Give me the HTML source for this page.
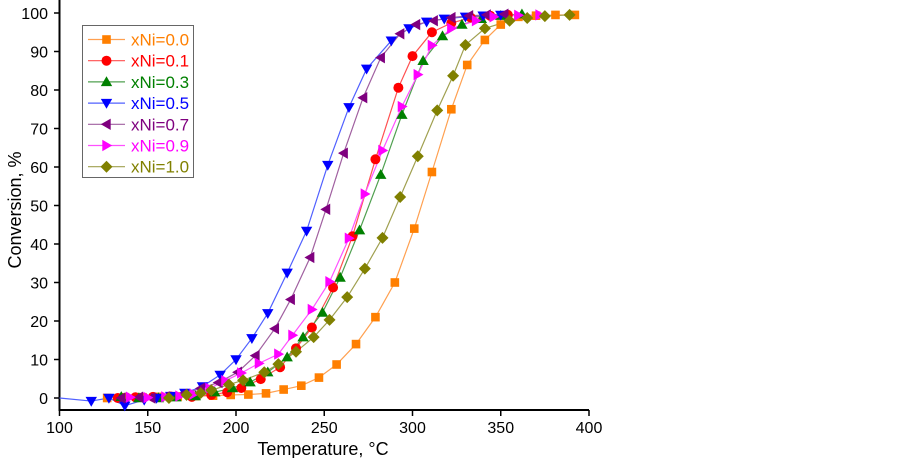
<!DOCTYPE html>
<html><head><meta charset="utf-8"><style>
html,body{margin:0;padding:0;background:#fff;}
svg{display:block;font-family:"Liberation Sans",Arial,sans-serif;}
</style></head><body>
<svg id="s" width="902" height="458" viewBox="0 0 902 458" xmlns="http://www.w3.org/2000/svg">
<g id="axes" stroke="#000" stroke-width="2" fill="none">
<line x1="59.5" y1="0" x2="59.5" y2="411"/>
<line x1="58.5" y1="410" x2="589" y2="410"/>
</g>
<g id="ticks" stroke="#000" stroke-width="1.5"></g>
<g id="labels" font-size="16" fill="#000"></g>
<g id="series"></g>
<text x="323" y="455" font-size="18" text-anchor="middle">Temperature, °C</text>
<text transform="translate(21,210) rotate(-90)" font-size="18" text-anchor="middle">Conversion, %</text>
<rect x="82.5" y="25.5" width="111" height="152" fill="#fff" stroke="#666" stroke-width="1"/>
<g id="legend"></g>
</svg>
<script>
const NS="http://www.w3.org/2000/svg";
const X=t=>59.5+(t-100)*1.765, Y=v=>398-v*3.85;
function el(tag,attrs,parent,txt){const e=document.createElementNS(NS,tag);for(const k in attrs)e.setAttribute(k,attrs[k]);if(txt!==undefined)e.textContent=txt;parent.appendChild(e);return e;}
const tk=document.getElementById('ticks'),lb=document.getElementById('labels');
for(let v=0;v<=100;v+=10){const y=Y(v);el('line',{x1:54,y1:y,x2:59.5,y2:y},tk);el('text',{x:48,y:y+6,'text-anchor':'end'},lb,v);}
for(let t=100;t<=400;t+=50){const x=X(t);el('line',{x1:x,y1:410,x2:x,y2:416},tk);el('text',{x:x,y:433,'text-anchor':'middle'},lb,t);}
function marker(type,x,y,c,g){
 const r=5.2;
 if(type==='sq')el('rect',{x:x-4.3,y:y-4.3,width:8.6,height:8.6,fill:c},g);
 else if(type==='ci')el('circle',{cx:x,cy:y,r:5,fill:c},g);
 else if(type==='up')el('polygon',{points:`${x},${y-r-0.5} ${x-r-0.5},${y+r-1} ${x+r+0.5},${y+r-1}`,fill:c},g);
 else if(type==='dn')el('polygon',{points:`${x},${y+r+0.5} ${x-r-0.5},${y-r+1} ${x+r+0.5},${y-r+1}`,fill:c},g);
 else if(type==='lt')el('polygon',{points:`${x-r-0.5},${y} ${x+r-1},${y-r-0.5} ${x+r-1},${y+r+0.5}`,fill:c},g);
 else if(type==='rt')el('polygon',{points:`${x+r+0.5},${y} ${x-r+1},${y-r-0.5} ${x-r+1},${y+r+0.5}`,fill:c},g);
 else if(type==='di')el('polygon',{points:`${x},${y-6} ${x+6},${y} ${x},${y+6} ${x-6},${y}`,fill:c},g);
}
const S=[
 {n:'xNi=0.0',c:'#ff7f00',lc:'#ffa050',m:'sq',d:[[127,0],[137,0.2],[147,0.2],[157,0.3],[167,0.4],[177,0.5],[187,0.6],[197,0.8],[207,0.9],[217,1.2],[227,2.2],[237,3.2],[247,5.3],[257,8.7],[268,14],[279,21],[290,30],[301,44],[311,58.7],[322,75],[331,86.5],[341,93],[350,97],[360,99],[370,99.3],[381,99.5],[392,99.5]]},
 {n:'xNi=0.1',c:'#ff0000',lc:'#ff5050',m:'ci',d:[[133,0],[143,0.2],[153,0.3],[163,0.4],[175,0.3],[186,0.8],[195,1.5],[203,2.6],[214,4.9],[225,8],[234,12.9],[243,18.3],[255,28.7],[266,42],[279,62],[292,80.6],[300,88.8],[311,95],[322,97.4],[333,98.8],[344,99.3],[354,99.5]]},
 {n:'xNi=0.3',c:'#008000',lc:'#50a050',m:'up',d:[[135,0.3],[145,0],[156,0],[166,0.2],[177,0.5],[188,1.5],[198,2.6],[208,4.1],[218,6.7],[229,10.6],[238,15.8],[249,22.2],[259,31.3],[270,43.6],[282,58],[294,73.6],[306,87.6],[317,94],[328,97],[339,98.5],[350,99.3],[362,99.7]]},
 {n:'xNi=0.5',c:'#0000ff',lc:'#5060ff',m:'dn',d:[[100,0,1],[118,-0.8],[128,0],[137,-2],[148,-0.5],[155,0],[163,0.5],[171,1.3],[181,3],[191,6],[200,10],[209,15.5],[218,22],[229,32.5],[240,43.4],[252,60.5],[264,75.5],[274,85.5],[288,92.8],[298,96],[308,97.7],[318,98.5],[330,99],[340,99.3],[350,99.5]]},
 {n:'xNi=0.7',c:'#7f007f',lc:'#a060a0',m:'lt',d:[[135,0],[145,0.2],[152,0],[160,0.3],[170,1],[180,2.5],[190,4],[201,6.7],[211,11],[222,18],[231,25.6],[242,36.5],[251,49],[261,63.6],[272,78],[282,88.4],[293,94.6],[302,97],[312,98],[322,98.8],[332,99.3],[342,99.5],[352,99.7]]},
 {n:'xNi=0.9',c:'#ff00ff',lc:'#ff50ff',m:'rt',d:[[140,0.2],[150,0.1],[160,0.3],[168,0.5],[176,1],[185,2.5],[194,4.5],[203,6.5],[213,9],[224,11.4],[232,16.3],[243,23],[253,30.2],[264,41.5],[273,53],[283,64.3],[294,75.7],[303,84],[311,91.6],[322,96],[336,98],[346,99],[360,99.4],[372,99.5]]},
 {n:'xNi=1.0',c:'#808000',lc:'#a0a050',m:'di',d:[[162,0],[172,0.8],[180,1.3],[186,2],[196,3.5],[204,4.6],[216,6.7],[224,8.8],[234,12],[244,15.8],[253,20.3],[263,26.2],[273,33.6],[283,41.6],[293,52.2],[303,62.8],[314,74.7],[323,83.7],[330,91.7],[341,96],[355,98],[365,98.7],[375,99.2],[389,99.5]]}
];
const sg=document.getElementById('series'),lg=document.getElementById('legend');
S.forEach((s,i)=>{
 const g=el('g',{},sg);
 el('polyline',{points:s.d.map(p=>X(p[0])+','+Y(p[1])).join(' '),fill:'none',stroke:s.lc,'stroke-width':1.2},g);
});
S.forEach(s=>{const g=el('g',{},sg);s.d.forEach(p=>{if(!p[2])marker(s.m,X(p[0]),Y(p[1]),s.c,g);});});
S.forEach((s,i)=>{
 const y=39.5+i*21.2;
 el('line',{x1:88,y1:y,x2:125,y2:y,stroke:s.lc,'stroke-width':1.2},lg);
 marker(s.m,106.5,y,s.c,lg);
 el('text',{x:131,y:y+6,'font-size':17,fill:s.c},lg,s.n);
});
</script>
</body></html>
